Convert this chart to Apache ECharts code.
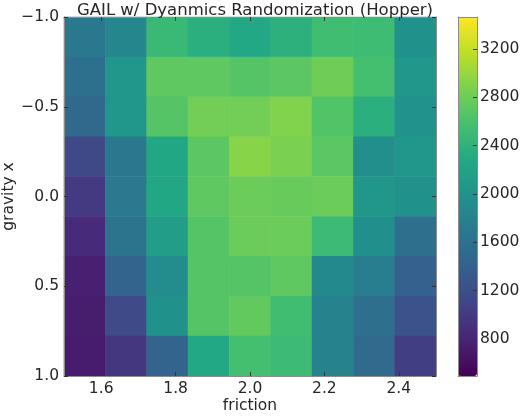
<!DOCTYPE html>
<html>
<head>
<meta charset="utf-8">
<script src="https://cdn.jsdelivr.net/npm/echarts@6/dist/echarts.min.js"></script>
<style>
  html, body { margin: 0; padding: 0; background: #fff; }
  #main { width: 522px; height: 416px; }
</style>
</head>
<body>
<div id="main"></div>
<script>
// cell centres (friction 1.5..2.5, gravity x -1..1, 9 x 9 cells)
var friction = ['1.56', '1.67', '1.78', '1.89', '2.00', '2.11', '2.22', '2.33', '2.44'];
var gravity = ['-1.00', '-0.75', '-0.50', '-0.25', '0.00', '0.25', '0.50', '0.75', '1.00'];

// returns, one row per gravity value (top to bottom)
var row0 = [1682, 1860, 2485, 2366, 2277, 2380, 2544, 2530, 1980];
var row1 = [1593, 2040, 2722, 2722, 2663, 2707, 2811, 2574, 2040];
var row2 = [1504, 2040, 2663, 2826, 2826, 2900, 2648, 2366, 1994];
var row3 = [1148, 1682, 2262, 2707, 2930, 2871, 2707, 1950, 2040];
var row4 = [999, 1697, 2262, 2722, 2796, 2767, 2796, 2054, 1980];
var row5 = [850, 1623, 2143, 2663, 2796, 2796, 2514, 1965, 1578];
var row6 = [761, 1445, 1935, 2663, 2663, 2722, 1890, 1742, 1415];
var row7 = [732, 1162, 1980, 2663, 2737, 2544, 1801, 1578, 1237];
var row8 = [717, 969, 1445, 2277, 2574, 2514, 1801, 1519, 1029];
var rows = [row0, row1, row2, row3, row4, row5, row6, row7, row8];

var frictionTicks = [1.6, 1.8, 2.0, 2.2, 2.4];
var cbarTicks = [800, 1200, 1600, 2000, 2400, 2800, 3200];
var cbarMin = 494, cbarMax = 3465;

var viridis = ['#440154', '#482475', '#414487', '#355f8d', '#2a788e', '#21918c',
  '#22a884', '#44bf70', '#7ad151', '#bddf26', '#fde725'];

var heat = [];
rows.forEach(function (r, j) {
  r.forEach(function (v, i) { heat.push([i, j, v]); });
});

function minus(s) { return s.replace('-', '\u2212'); }

var txt = { color: '#262626', fontFamily: 'DejaVu Sans', fontSize: 15.5 };
var frame = { show: true, onZero: false, lineStyle: { color: '#8c8c8c', width: 1 } };
var tick = { inside: true, length: 4, lineStyle: { color: '#333' } };

var myChart = echarts.init(document.getElementById('main'));

var option = {
  backgroundColor: '#ffffff',
  animation: false,
  title: {
    text: 'GAIL w/ Dyanmics Randomization (Hopper)',
    left: 250, top: -3, textAlign: 'center',
    textStyle: { color: '#262626', fontFamily: 'DejaVu Sans', fontSize: 16.5, fontWeight: 'normal' }
  },
  grid: [
    { left: 64, top: 17, width: 372, height: 359, outerBoundsMode: 'none', containLabel: false },
    { left: 458, top: 17, width: 19, height: 359, outerBoundsMode: 'none', containLabel: false }
  ],
  xAxis: [
    { type: 'category', gridIndex: 0, data: friction, show: false },
    {
      type: 'value', gridIndex: 0, position: 'bottom', min: 1.5, max: 2.5,
      name: 'friction', nameLocation: 'middle', nameGap: 22, nameMoveOverlap: false,
      nameTextStyle: txt,
      axisLine: frame, splitLine: { show: false },
      axisTick: Object.assign({ customValues: frictionTicks }, tick),
      axisLabel: Object.assign({ customValues: frictionTicks, margin: 5,
        formatter: function (v) { return v.toFixed(1); } }, txt),
      z: 5
    },
    {
      type: 'value', gridIndex: 0, position: 'top', min: 1.5, max: 2.5,
      axisLine: frame, splitLine: { show: false },
      axisTick: Object.assign({ customValues: frictionTicks }, tick),
      axisLabel: { show: false }, z: 5
    },
    {
      type: 'value', gridIndex: 1, position: 'bottom', min: 0, max: 1,
      axisLine: frame, axisTick: { show: false }, axisLabel: { show: false },
      splitLine: { show: false }, z: 5
    },
    {
      type: 'value', gridIndex: 1, position: 'top', min: 0, max: 1,
      axisLine: frame, axisTick: { show: false }, axisLabel: { show: false },
      splitLine: { show: false }, z: 5
    }
  ],
  yAxis: [
    { type: 'category', gridIndex: 0, data: gravity, inverse: true, show: false },
    {
      type: 'value', gridIndex: 0, position: 'left', inverse: true,
      min: -1, max: 1, interval: 0.5,
      name: 'gravity x', nameLocation: 'middle', nameGap: 47, nameMoveOverlap: false,
      nameTextStyle: txt,
      axisLine: frame, splitLine: { show: false },
      axisTick: tick,
      axisLabel: Object.assign({ margin: 5,
        formatter: function (v) { return minus(v.toFixed(1)); } }, txt),
      z: 5
    },
    {
      type: 'value', gridIndex: 0, position: 'right', inverse: true,
      min: -1, max: 1, interval: 0.5,
      axisLine: frame, splitLine: { show: false },
      axisTick: tick, axisLabel: { show: false }, z: 5
    },
    {
      type: 'value', gridIndex: 1, position: 'right', min: cbarMin, max: cbarMax,
      axisLine: frame, splitLine: { show: false },
      axisTick: Object.assign({ customValues: cbarTicks }, tick),
      axisLabel: Object.assign({ customValues: cbarTicks, margin: 3,
        formatter: function (v) { return String(v); } }, txt),
      z: 5
    },
    {
      type: 'value', gridIndex: 1, position: 'left', min: cbarMin, max: cbarMax,
      axisLine: frame, splitLine: { show: false },
      axisTick: { show: false }, axisLabel: { show: false }, z: 5
    }
  ],
  visualMap: {
    type: 'continuous',
    min: cbarMin, max: cbarMax,
    seriesIndex: 0,
    calculable: false,
    text: null,
    padding: 0,
    left: 458, top: 17,
    itemWidth: 19, itemHeight: 359,
    inRange: { color: viridis },
    z: 1
  },
  series: [
    {
      type: 'heatmap',
      xAxisIndex: 0, yAxisIndex: 0,
      data: heat,
      itemStyle: { borderWidth: 0 },
      emphasis: { disabled: true }
    }
  ]
};

myChart.setOption(option);
</script>
</body>
</html>
